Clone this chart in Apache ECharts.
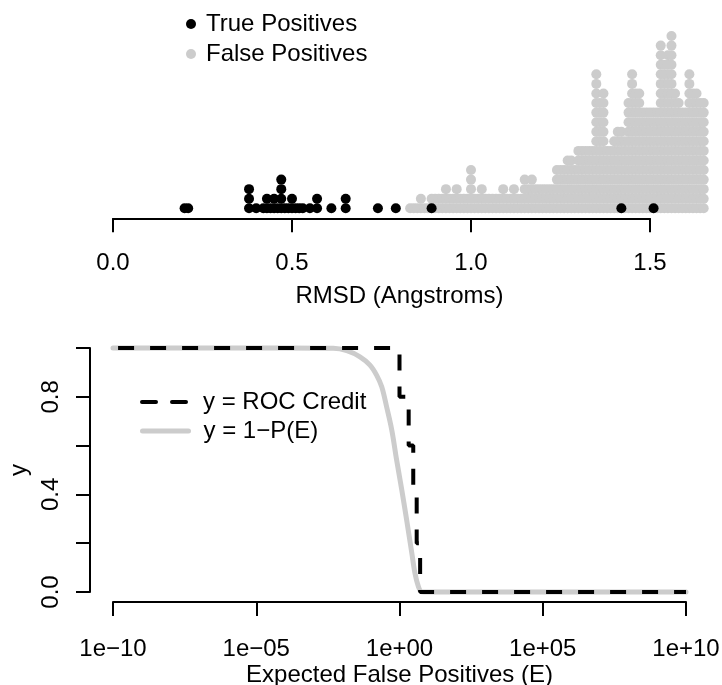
<!DOCTYPE html>
<html>
<head>
<meta charset="utf-8">
<script src="https://cdn.jsdelivr.net/npm/echarts@6/dist/echarts.min.js"></script>
<style>
  html, body { margin: 0; padding: 0; background: #ffffff; }
  #chart { width: 722px; height: 685px; }
</style>
</head>
<body>
<div id="chart"></div>
<script>
// RMSD (Angstroms) of each true-positive hit; repeated values stack upward
const truePositiveRmsd = [
  0.20, 0.21,
  0.38, 0.38, 0.38,
  0.40, 0.42, 0.43, 0.43, 0.44, 0.45, 0.45, 0.46,
  0.47, 0.47, 0.47, 0.47, 0.48, 0.49, 0.50, 0.50, 0.51, 0.52, 0.53, 0.55,
  0.57, 0.57, 0.61, 0.65, 0.65, 0.74, 0.79, 0.89, 1.42, 1.51
];

// RMSD bins of the false-positive hits and the number of hits in each bin
const falsePositiveRmsd = [
  0.83, 0.84, 0.85, 0.86, 0.87, 0.88, 0.89, 0.90, 0.91, 0.92,
  0.93, 0.94, 0.95, 0.96, 0.97, 0.98, 0.99, 1.00, 1.01, 1.02,
  1.03, 1.04, 1.05, 1.06, 1.07, 1.08, 1.09, 1.10, 1.11, 1.12,
  1.13, 1.14, 1.15, 1.16, 1.17, 1.18, 1.19, 1.20, 1.21, 1.22,
  1.23, 1.24, 1.25, 1.26, 1.27, 1.28, 1.29, 1.30, 1.31, 1.32,
  1.33, 1.34, 1.35, 1.36, 1.37, 1.38, 1.39, 1.40, 1.41, 1.42,
  1.43, 1.44, 1.45, 1.46, 1.47, 1.48, 1.49, 1.50, 1.51, 1.52,
  1.53, 1.54, 1.55, 1.56, 1.57, 1.58, 1.59, 1.60, 1.61, 1.62,
  1.63, 1.64, 1.65
];
const falsePositiveCount = [
  1, 1, 1, 2, 1, 1, 2, 2, 2, 2,
  3, 2, 2, 3, 2, 2, 2, 5, 2, 2,
  3, 2, 2, 2, 2, 2, 3, 2, 2, 3,
  2, 2, 4, 3, 4, 3, 3, 3, 3, 3,
  3, 5, 5, 5, 6, 6, 5, 7, 7, 7,
  7, 7, 15, 12, 13, 7, 7, 8, 9, 9,
  8, 12, 15, 13, 13, 11, 11, 11, 11, 11,
  18, 16, 17, 19, 13, 12, 11, 11, 15, 13,
  13, 12, 12
];
const rmsdTicks = [0, 0.5, 1.0, 1.5];

// ROC credit as a step function of log10(E)
const rocLogE   = [-10.8, 0.00, 0.00, 0.32, 0.32, 0.48, 0.48, 0.60, 0.60, 0.72, 0.72, 10];
const rocCredit = [1.0,   1.0,  0.8,  0.8,  0.6,  0.6,  0.4,  0.4,  0.2,  0.2,  0.0,  0.0];

// 1 - P(E) sampled along log10(E)
const survivalLogE  = [-10, -4, -2.31, -1.84, -1.38, -1.03, -0.80, -0.62, -0.45, -0.27, -0.10, 0.08, 0.25, 0.43, 0.54, 0.66, 0.77, 1, 10];
const survivalValue = [1.0, 1.0, 0.999, 0.989, 0.964, 0.930, 0.889, 0.841, 0.759, 0.664, 0.541, 0.418, 0.295, 0.159, 0.077, 0.022, 0.001, 0, 0];

const logTicks = [-10, -5, 0, 5, 10];

// ---- stacked dot positions: (value, stack level) ----
function stackValues(values) {
  const seen = {};
  return values.map(v => {
    const key = v.toFixed(2);
    const level = seen[key] || 0;
    seen[key] = level + 1;
    return [v, level];
  });
}
const tpPoints = stackValues(truePositiveRmsd);
const fpPoints = [];
falsePositiveRmsd.forEach((v, i) => {
  for (let k = 0; k < falsePositiveCount[i]; k++) fpPoints.push([v, k]);
});

const rocData = rocLogE.map((x, i) => [x, rocCredit[i]]);
const survivalData = survivalLogE.map((x, i) => [x, survivalValue[i]]);

const FONT = '"Liberation Sans", Arial, Helvetica, sans-serif';
const FS = 24;
const GRAY = '#cccccc';

function expLabel(v) {
  const n = Math.round(v);
  const sign = n < 0 ? '\u2212' : '+';
  const a = Math.abs(n);
  return '1e' + sign + (a < 10 ? '0' + a : '' + a);
}

const chart = echarts.init(document.getElementById('chart'), null, { renderer: 'canvas' });

const axisLineStyle = { color: '#000', width: 2 };
const txt = { color: '#000', fontSize: FS, fontFamily: FONT, lineHeight: 24 };

function lineLegend(name, top, lineStyle) {
  return {
    data: [name], orient: 'vertical', left: 135, top: top,
    itemWidth: 46, itemHeight: 14, selectedMode: false,
    itemStyle: { opacity: 0 },
    lineStyle: lineStyle,
    textStyle: Object.assign({ padding: [0, 0, 0, 10] }, txt)
  };
}
function dotLegend(name, top) {
  return {
    data: [name], orient: 'vertical', left: 181, top: top,
    icon: 'circle', itemWidth: 10, itemHeight: 10, selectedMode: false,
    textStyle: Object.assign({ padding: [0, 0, 0, 5] }, txt)
  };
}

chart.setOption({
  animation: false,
  backgroundColor: '#ffffff',
  textStyle: { fontFamily: FONT },
  grid: [
    { left: 113, right: 72, top: 16.9, bottom: 476.7, containLabel: false, outerBoundsMode: 'none' },
    { left: 113, right: 36, top: 348, bottom: 93, containLabel: false, outerBoundsMode: 'none' }
  ],
  xAxis: [
    {
      gridIndex: 0, type: 'value',
      min: rmsdTicks[0], max: rmsdTicks[rmsdTicks.length - 1], interval: 0.5,
      offset: 10,
      axisLine: { show: true, onZero: false, lineStyle: axisLineStyle },
      axisTick: { show: true, length: 14, lineStyle: axisLineStyle },
      splitLine: { show: false },
      axisLabel: Object.assign({ margin: 33.5, formatter: v => v.toFixed(1) }, txt),
      name: 'RMSD (Angstroms)', nameLocation: 'middle', nameGap: 66,
      nameTextStyle: Object.assign({ padding: [0, 0, 0, 36] }, txt)
    },
    {
      gridIndex: 1, type: 'value',
      min: logTicks[0], max: logTicks[logTicks.length - 1], interval: 5,
      offset: 10,
      axisLine: { show: true, onZero: false, lineStyle: axisLineStyle },
      axisTick: { show: true, length: 14, lineStyle: axisLineStyle },
      splitLine: { show: false },
      axisLabel: Object.assign({ margin: 35, formatter: expLabel }, txt),
      name: 'Expected False Positives (E)', nameLocation: 'middle', nameGap: 61,
      nameTextStyle: txt
    }
  ],
  yAxis: [
    { gridIndex: 0, type: 'value', min: 0, max: 20, show: false },
    {
      gridIndex: 1, type: 'value', min: 0, max: 1, interval: 0.2,
      offset: 23,
      axisLine: { show: true, onZero: false, lineStyle: axisLineStyle },
      axisTick: { show: true, length: 14, lineStyle: axisLineStyle },
      splitLine: { show: false },
      axisLabel: Object.assign({ margin: 27, rotate: 90,
                   formatter: v => (Math.round(v * 10) % 4 === 0 ? v.toFixed(1) : '') }, txt),
      name: 'y', nameLocation: 'middle', nameGap: 50, nameRotate: 90,
      nameTextStyle: txt
    }
  ],
  legend: [
    dotLegend('True Positives', 7),
    dotLegend('False Positives', 37),
    lineLegend('y = ROC Credit', 385, { color: '#000', width: 4, type: [14, 16], dashOffset: 0, cap: 'round' }),
    lineLegend('y = 1\u2212P(E)', 414, { color: GRAY, width: 5, type: 'solid', cap: 'round' })
  ],
  series: [
    {
      name: 'False Positives', type: 'scatter', xAxisIndex: 0, yAxisIndex: 0,
      data: fpPoints, symbol: 'circle', symbolSize: 10, clip: false,
      itemStyle: { color: GRAY, opacity: 1 }, emphasis: { disabled: true }, silent: true
    },
    {
      name: 'True Positives', type: 'scatter', xAxisIndex: 0, yAxisIndex: 0,
      data: tpPoints, symbol: 'circle', symbolSize: 10, clip: false,
      itemStyle: { color: '#000', opacity: 1 }, emphasis: { disabled: true }, silent: true
    },
    {
      name: 'y = 1\u2212P(E)', type: 'line', xAxisIndex: 1, yAxisIndex: 1,
      data: survivalData, smooth: 0.35, symbol: 'none', clip: false,
      lineStyle: { color: GRAY, width: 5, cap: 'round', join: 'round' }, itemStyle: { color: GRAY },
      emphasis: { disabled: true }, silent: true
    },
    {
      name: 'y = ROC Credit', type: 'line', xAxisIndex: 1, yAxisIndex: 1,
      data: rocData, symbol: 'none', clip: false,
      lineStyle: { color: '#000', width: 4, type: [16, 16], dashOffset: 4, cap: 'butt' },
      itemStyle: { color: '#000' },
      emphasis: { disabled: true }, silent: true
    }
  ]
});
</script>
</body>
</html>
